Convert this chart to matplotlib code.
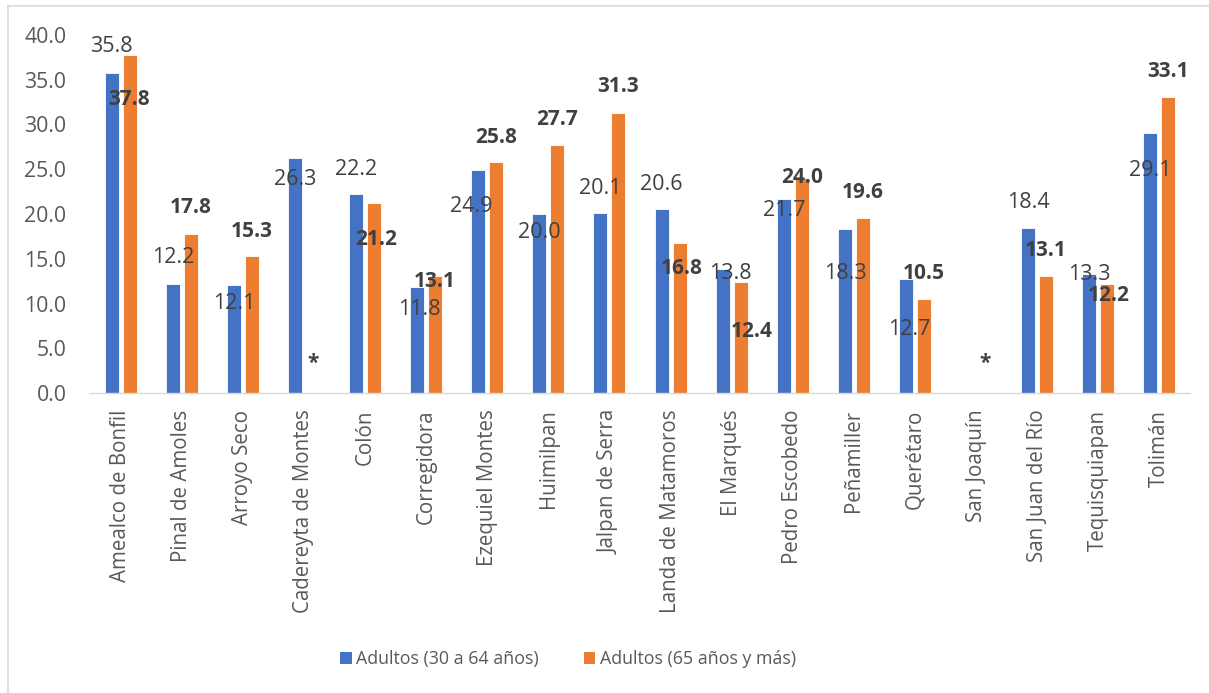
import matplotlib
matplotlib.use("Agg")
import matplotlib.pyplot as plt
from matplotlib.lines import Line2D
from matplotlib.patches import Patch
import numpy as np

categories = ["Amealco de Bonfil", "Pinal de Amoles", "Arroyo Seco", "Cadereyta de Montes",
              "Colón", "Corregidora", "Ezequiel Montes", "Huimilpan", "Jalpan de Serra",
              "Landa de Matamoros", "El Marqués", "Pedro Escobedo", "Peñamiller", "Querétaro",
              "San Joaquín", "San Juan del Río", "Tequisquiapan", "Tolimán"]
adultos_30_64 = [35.8, 12.2, 12.1, 26.3, 22.2, 11.8, 24.9, 20.0, 20.1, 20.6, 13.8, 21.7,
                 18.3, 12.7, None, 18.4, 13.3, 29.1]
adultos_65 = [37.8, 17.8, 15.3, None, 21.2, 13.1, 25.8, 27.7, 31.3, 16.8, 12.4, 24.0,
              19.6, 10.5, None, 13.1, 12.2, 33.1]
series_names = ["Adultos (30 a 64 años)", "Adultos (65 años y más)"]
yticks = [0, 5, 10, 15, 20, 25, 30, 35, 40]

# label placement (manually moved labels in the original)
label_y_blue = [38.7, 15.1, 10.0, 23.8, 25.0, 9.3, 20.8, 17.9, 22.9, 23.3, 13.3, 20.4,
                13.3, 7.15, None, 21.3, 13.2, 24.9]
label_dx_blue = [0, 0, 0, 0, 0, 0.03, -0.11, 0, 0, 0, 0.13, 0, 0, 0.05, 0, 0, 0, 0]
label_y_orange = [32.8, 20.7, 18.1, 3.3, 17.1, 12.5, 28.6, 30.6, 34.2, 13.9, 6.9, 24.1,
                  22.4, 13.3, 3.3, 15.9, 10.9, 35.9]
label_dx_orange = [0, 0, 0, 0, 0.04, 0, 0, 0, 0, 0.04, 0.19, 0, 0, 0, 0, 0, 0.02, 0]

BLUE = "#4472C4"
ORANGE = "#ED7D31"
TXT = "#404040"
TICK = "#595959"

plt.rcParams['font.family'] = ['Open Sans', 'DejaVu Sans']

fig = plt.figure(figsize=(12.09, 6.93), dpi=100)
ax = fig.add_axes([90/1209, 1-393/693, 1100/1209, (393-35)/693])

x = np.arange(len(categories))
off = 0.147
w = 0.23
b = np.array([np.nan if v is None else v for v in adultos_30_64])
o = np.array([np.nan if v is None else v for v in adultos_65])
ax.bar(x - off, np.nan_to_num(b), w, color=BLUE, edgecolor="white", linewidth=0.6)
ax.bar(x + off, np.nan_to_num(o), w, color=ORANGE, edgecolor="white", linewidth=0.6)

for i in range(len(categories)):
    if adultos_30_64[i] is not None:
        ax.text(i - off + label_dx_blue[i], label_y_blue[i], f"{adultos_30_64[i]:.1f}",
                ha="center", va="center", fontsize=15.5, color=TXT)
    txt = "*" if adultos_65[i] is None else f"{adultos_65[i]:.1f}"
    ax.text(i + off + label_dx_orange[i], label_y_orange[i], txt,
            ha="center", va="center", fontsize=15, color=TXT, fontweight="bold")

ax.set_xlim(-0.5, len(categories) - 0.5)
ax.set_ylim(0, 40)
ax.set_yticks(yticks)
ax.set_yticklabels([f"{t:.1f}" for t in yticks], fontsize=15.3, color=TICK)
ax.set_xticks(x)
ax.set_xticklabels(categories, rotation=90, fontsize=14.8, color=TICK)
ax.tick_params(axis="y", length=0, pad=17)
ax.tick_params(axis="x", length=0, pad=12)
for s in ["left", "right", "top"]:
    ax.spines[s].set_visible(False)
ax.spines["bottom"].set_color("#D9D9D9")
ax.spines["bottom"].set_linewidth(1.0)

handles = [Patch(facecolor=BLUE, label=series_names[0]),
           Patch(facecolor=ORANGE, label=series_names[1])]
leg = fig.legend(handles=handles, loc="center", bbox_to_anchor=(568/1209, 1-659/693),
                 ncol=2, frameon=False, fontsize=12.8, handlelength=0.65, handleheight=0.65,
                 handletextpad=0.25, columnspacing=2.5)
for t in leg.get_texts():
    t.set_color(TICK)

# chart border (left and top visible)
fig.add_artist(Line2D([8/1209, 8/1209], [0, 1-6/693], color="#D9D9D9", lw=1.2,
                      transform=fig.transFigure))
fig.add_artist(Line2D([8/1209, 1], [1-6/693, 1-6/693], color="#D9D9D9", lw=1.2,
                      transform=fig.transFigure))

fig.savefig("out.png", dpi=100)
